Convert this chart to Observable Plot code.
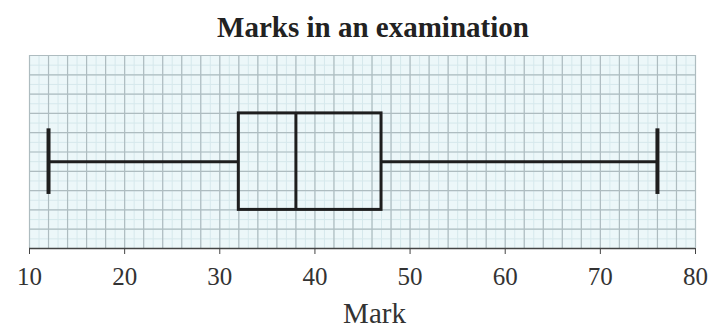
<!DOCTYPE html>
<html>
<head>
<meta charset="utf-8">
<script src="https://cdn.jsdelivr.net/npm/d3@7"></script>
<script src="https://cdn.jsdelivr.net/npm/@observablehq/plot@0.6"></script>
<style>
  html, body { margin: 0; padding: 0; background: #ffffff; }
  #wrap { width: 711px; height: 327px; position: relative; overflow: hidden; }
  #title {
    box-sizing: border-box; width: 711px; height: 50px;
    padding-top: 13px; padding-left: 35px;
    text-align: center; line-height: 1;
    font-family: "Liberation Serif", "DejaVu Serif", serif;
    font-weight: bold; font-size: 29px; color: #222;
  }
</style>
</head>
<body>
<div id="wrap">
  <div id="title"></div>
  <div id="chart"></div>
</div>
<script>
// ---- data ----
const titleText = "Marks in an examination";
const axisLabel = "Mark";
const statNames = ["Minimum", "Lower quartile", "Median", "Upper quartile", "Maximum"];
const statValues = [12, 32, 38, 47, 76];
const xTicks = [10, 20, 30, 40, 50, 60, 70, 80];

document.getElementById("title").textContent = titleText;

// ---- build summary record from arrays ----
const summary = {};
statNames.forEach((n, i) => summary[n] = statValues[i]);
const rows = [summary];

// ---- layout constants (graph-paper units on the vertical axis) ----
const X_DOMAIN = [10, 80];
const Y_DOMAIN = [0, 20];
const BOX_LOW = 4, BOX_HIGH = 14, WHISK_Y = 9, CAP_LOW = 5.6, CAP_HIGH = 12.4;
const minorX = d3.range(X_DOMAIN[0], X_DOMAIN[1] + 0.001, 1);
const majorX = d3.range(X_DOMAIN[0], X_DOMAIN[1] + 0.001, 2);
const minorY = d3.range(Y_DOMAIN[0], Y_DOMAIN[1] + 0.001, 1);
const majorY = d3.range(Y_DOMAIN[0], Y_DOMAIN[1] + 0.001, 2);

const ink = "#1e1e1e";

const chart = Plot.plot({
  width: 711,
  height: 277,
  marginTop: 5,
  marginBottom: 79,
  marginLeft: 29,
  marginRight: 16,
  style: { fontFamily: "Liberation Serif, DejaVu Serif, serif", fontSize: "25px", color: "#333", background: "transparent" },
  x: { domain: X_DOMAIN },
  y: { domain: Y_DOMAIN, axis: null },
  marks: [
    Plot.frame({ fill: "#ecf7f9", stroke: null }),
    Plot.ruleX(minorX, { stroke: "#d6e8ec", strokeWidth: 1 }),
    Plot.ruleY(minorY, { stroke: "#d6e8ec", strokeWidth: 1 }),
    Plot.ruleX(majorX, { stroke: "#aebcc0", strokeWidth: 1.2 }),
    Plot.ruleY(majorY, { stroke: "#aebcc0", strokeWidth: 1.2 }),
    Plot.ruleY([Y_DOMAIN[0]], { stroke: "#444", strokeWidth: 1.5 }),
    Plot.axisX({
      ticks: xTicks, tickFormat: d => String(d), tickSize: 6, tickPadding: 13,
      stroke: "#444", fill: "#333", fontSize: 25, label: null
    }),
    Plot.text([axisLabel], {
      text: d => d, frameAnchor: "bottom", lineAnchor: "bottom",
      dx: 12, dy: 74, fontSize: 29, fill: "#333"
    }),
    // whiskers
    Plot.ruleY(rows, { x1: "Minimum", x2: "Lower quartile", y: () => WHISK_Y, stroke: ink, strokeWidth: 3 }),
    Plot.ruleY(rows, { x1: "Upper quartile", x2: "Maximum", y: () => WHISK_Y, stroke: ink, strokeWidth: 3 }),
    // whisker caps
    Plot.ruleX(rows, { x: "Minimum", y1: () => CAP_LOW, y2: () => CAP_HIGH, stroke: ink, strokeWidth: 4 }),
    Plot.ruleX(rows, { x: "Maximum", y1: () => CAP_LOW, y2: () => CAP_HIGH, stroke: ink, strokeWidth: 4 }),
    // box
    Plot.rect(rows, { x1: "Lower quartile", x2: "Upper quartile", y1: () => BOX_LOW, y2: () => BOX_HIGH, fill: "none", stroke: ink, strokeWidth: 3 }),
    // median
    Plot.ruleX(rows, { x: "Median", y1: () => BOX_LOW, y2: () => BOX_HIGH, stroke: ink, strokeWidth: 3 })
  ]
});
document.getElementById("chart").appendChild(chart);
</script>
</body>
</html>
